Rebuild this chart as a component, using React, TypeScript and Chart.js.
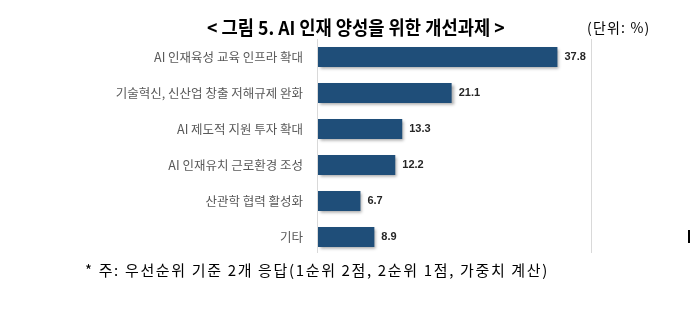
import React, { useEffect, useRef } from "react";
import { Chart, registerables } from "chart.js";

Chart.register(...registerables);

const categories = [
  "AI 인재육성 교육 인프라 확대",
  "기술혁신, 신산업 창출 저해규제 완화",
  "AI 제도적 지원 투자 확대",
  "AI 인재유치 근로환경 조성",
  "산관학 협력 활성화",
  "기타",
];
const values = [37.8, 21.1, 13.3, 12.2, 6.7, 8.9];
const titleText = "< 그림 5. AI 인재 양성을 위한 개선과제 >";
const unitText = "(단위: %)";
const noteText = "* 주: 우선순위 기준 2개 응답(1순위 2점, 2순위 1점, 가중치 계산)";

const BAR_COLOR = "#1F4E79";

const shadowPlugin = {
  id: "barShadow",
  beforeDatasetsDraw(chart: any) {
    const ctx = chart.ctx;
    ctx.save();
    ctx.shadowColor = "rgba(0,0,0,0.35)";
    ctx.shadowOffsetX = 2;
    ctx.shadowOffsetY = 2;
    ctx.shadowBlur = 3;
  },
  afterDatasetsDraw(chart: any) {
    chart.ctx.restore();
  },
};

const framePlugin = {
  id: "frameLines",
  beforeDatasetsDraw(chart: any) {
    const { ctx, chartArea } = chart;
    ctx.save();
    ctx.strokeStyle = "#D9D9D9";
    ctx.lineWidth = 1;
    ctx.beginPath();
    ctx.moveTo(Math.round(chartArea.left) - 0.5, chartArea.top);
    ctx.lineTo(Math.round(chartArea.left) - 0.5, chartArea.bottom - 2);
    ctx.moveTo(Math.round(chartArea.right) + 0.5, chartArea.top);
    ctx.lineTo(Math.round(chartArea.right) + 0.5, chartArea.bottom - 2);
    ctx.stroke();
    ctx.restore();
  },
};

const labelPlugin = {
  id: "valueLabels",
  afterDatasetsDraw(chart: any) {
    const ctx = chart.ctx;
    const meta = chart.getDatasetMeta(0);
    ctx.save();
    ctx.font = "bold 11px 'Liberation Sans', Arial, sans-serif";
    ctx.fillStyle = "#262626";
    ctx.textAlign = "left";
    ctx.textBaseline = "middle";
    meta.data.forEach((el: any, i: number) => {
      ctx.fillText(values[i].toFixed(1), el.x + 7, el.y);
    });
    ctx.restore();
  },
};

export default function App() {
  const ref = useRef<HTMLCanvasElement>(null);
  useEffect(() => {
    if (!ref.current) return;
    const chart = new Chart(ref.current, {
      type: "bar",
      data: {
        labels: categories,
        datasets: [
          {
            data: values,
            backgroundColor: BAR_COLOR,
            borderWidth: 0,
            categoryPercentage: 1,
            barPercentage: 0.56,
          },
        ],
      },
      options: {
        indexAxis: "y",
        animation: false,
        responsive: false,
        maintainAspectRatio: false,
        layout: { padding: { left: 0, right: 99, top: 39, bottom: 68 } },
        plugins: {
          legend: { display: false },
          tooltip: { enabled: false },
          title: { display: false },
        },
        scales: {
          x: {
            display: false,
            min: 0,
            max: 43.1,
          },
          y: {
            afterFit(scale: any) {
              scale.width = 318;
            },
            border: { display: false },
            grid: { display: false, drawTicks: false },
            ticks: {
              padding: 15,
              color: "#595959",
              font: { family: "'Noto Sans CJK KR', sans-serif", size: 12.5 },
            },
          },
        },
      },
      plugins: [framePlugin, shadowPlugin, labelPlugin],
    });
    return () => chart.destroy();
  }, []);

  return (
    <div
      style={{
        position: "absolute",
        left: 0,
        top: 0,
        width: 690,
        height: 323,
        background: "#fff",
        overflow: "hidden",
      }}
    >
      <canvas
        ref={ref}
        width={690}
        height={323}
        style={{ position: "absolute", left: 0, top: 0, width: 690, height: 323 }}
      />
      <div
        style={{
          position: "absolute",
          left: 207,
          top: 14,
          width: 296,
          fontFamily: "'Noto Sans CJK KR', sans-serif",
          fontWeight: 700,
          fontSize: 19,
          lineHeight: "26px",
          color: "#000",
          whiteSpace: "nowrap",
          transformOrigin: "left center",
          transform: "scaleX(0.93)",
        }}
      >
        {titleText}
      </div>
      <div
        style={{
          position: "absolute",
          left: 587,
          top: 17,
          fontFamily: "'Noto Sans CJK KR', sans-serif",
          fontSize: 14,
          lineHeight: "20px",
          color: "#000",
          whiteSpace: "nowrap",
          letterSpacing: 1.2,
        }}
      >
        {unitText}
      </div>
      <div
        style={{
          position: "absolute",
          left: 85,
          top: 259,
          fontFamily: "'Noto Sans CJK KR', sans-serif",
          fontSize: 15,
          lineHeight: "22px",
          color: "#000",
          whiteSpace: "nowrap",
          letterSpacing: 1.65,
        }}
      >
        {noteText}
      </div>
      <div
        style={{
          position: "absolute",
          left: 688,
          top: 230,
          width: 2,
          height: 13,
          background: "#000",
        }}
      />
    </div>
  );
}
